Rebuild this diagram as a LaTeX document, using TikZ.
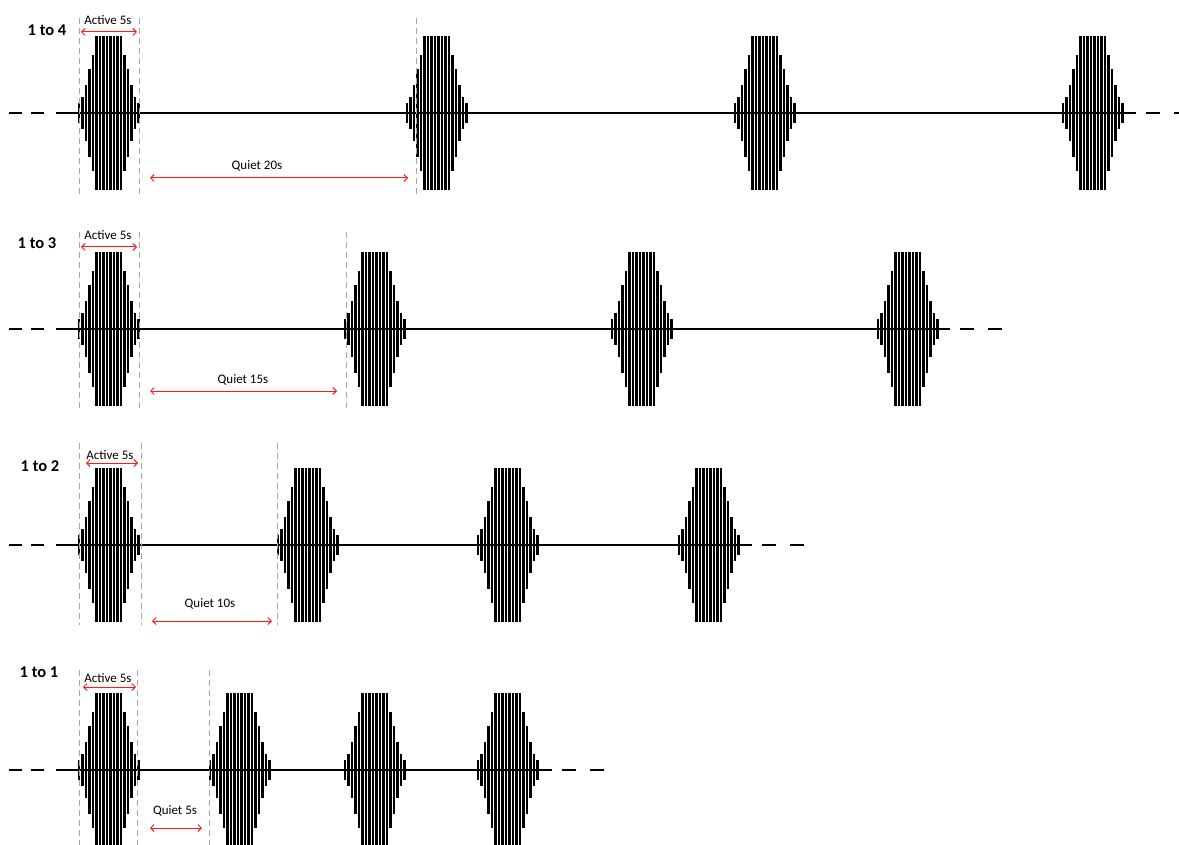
\documentclass[tikz,border=0pt]{standalone}
\usepackage{fontspec}
\setmainfont{Carlito}
\usetikzlibrary{arrows.meta}

\begin{document}
\begin{tikzpicture}[
  x=1pt, y=-1pt,
  font=\fontsize{13}{15}\selectfont,
  burstbar/.style={line width=2.6pt, black},
  axisline/.style={line width=1.8pt},
  axisdash/.style={line width=2pt, dash pattern=on 13pt off 9pt},
  axisdashr/.style={line width=2pt, dash pattern=on 14pt off 14pt},
  guideline/.style={gray!70, line width=0.8pt, dash pattern=on 6pt off 4pt},
  spanarr/.style={red!90, line width=1pt,
                  {Straight Barb[length=3.5pt,width=7pt]}-{Straight Barb[length=3.5pt,width=7pt]}},
  rowlab/.style={font=\fontsize{16.5}{18}\selectfont\bfseries},
  burst/.pic={
    \foreach \h [count=\i from 0] in {10,16,28,44,58,77,77,77,77,77,77,77,77,58,44,28,16,10}
      \draw[burstbar] (3.5*\i,-\h) -- (3.5*\i,\h);
  }
]
\useasboundingbox (0,0) rectangle (1179,845);

% 1 to 4
\foreach \x in {79,407,735,1063} \pic at (\x,113) {burst};
\draw[axisdash] (9,113) -- (44,113);
\draw[axisline] (56,113) -- (1136,113);
\draw[axisdashr] (1146,113) -- (1179,113);
\draw[guideline] (79,18) -- (79,197) (139,18) -- (139,197) (416,18) -- (416,197);
\node[rowlab] (lab1) at (47,30) {1 to 4};
\node (act1) at (108,20) {Active 5s};
\node (qui1) at (257,166) {Quiet 20s};
\coordinate (a1l) at (81,32);  \coordinate (a1r) at (137,32);
\coordinate (q1l) at (150,178); \coordinate (q1r) at (408,178);
\draw[spanarr] (a1l) -- (a1r);
\draw[spanarr] (q1l) -- (q1r);

% 1 to 3
\foreach \x in {79,345,612,878} \pic at (\x,329) {burst};
\draw[axisdash] (9,329) -- (44,329);
\draw[axisline] (56,329) -- (950,329);
\draw[axisdashr] (960,329) -- (1002,329);
\draw[guideline] (79,232) -- (79,412) (139,232) -- (139,412) (346,232) -- (346,412);
\node[rowlab] (lab2) at (37,243) {1 to 3};
\node (act2) at (108,235) {Active 5s};
\node (qui2) at (243,380) {Quiet 15s};
\coordinate (a2l) at (81,247);  \coordinate (a2r) at (137,247);
\coordinate (q2l) at (150,391); \coordinate (q2r) at (337,391);
\draw[spanarr] (a2l) -- (a2r);
\draw[spanarr] (q2l) -- (q2r);

% 1 to 2
\foreach \x in {79,278,478,679} \pic at (\x,545) {burst};
\draw[axisdash] (9,545) -- (44,545);
\draw[axisline] (56,545) -- (752,545);
\draw[axisdashr] (762,545) -- (804,545);
\draw[guideline] (79,443) -- (79,625) (141,443) -- (141,625) (277,443) -- (277,625);
\node[rowlab] (lab3) at (40,466) {1 to 2};
\node (act3) at (110,455) {Active 5s};
\node (qui3) at (210,604) {Quiet 10s};
\coordinate (a3l) at (86,463);  \coordinate (a3r) at (138,463);
\coordinate (q3l) at (152,621); \coordinate (q3r) at (272,621);
\draw[spanarr] (a3l) -- (a3r);
\draw[spanarr] (q3l) -- (q3r);

% 1 to 1
\foreach \x in {79,210,345,478} \pic at (\x,770) {burst};
\draw[axisdash] (9,770) -- (44,770);
\draw[axisline] (56,770) -- (552,770);
\draw[axisdashr] (562,770) -- (604,770);
\draw[guideline] (79,670) -- (79,845) (137,670) -- (137,845) (209,670) -- (209,845);
\node[rowlab] (lab4) at (39,672) {1 to 1};
\node (act4) at (108,678) {Active 5s};
\node (qui4) at (175,811) {Quiet 5s};
\coordinate (a4l) at (83,687);  \coordinate (a4r) at (136,687);
\coordinate (q4l) at (150,828); \coordinate (q4r) at (202,828);
\draw[spanarr] (a4l) -- (a4r);
\draw[spanarr] (q4l) -- (q4r);
\end{tikzpicture}
\end{document}
